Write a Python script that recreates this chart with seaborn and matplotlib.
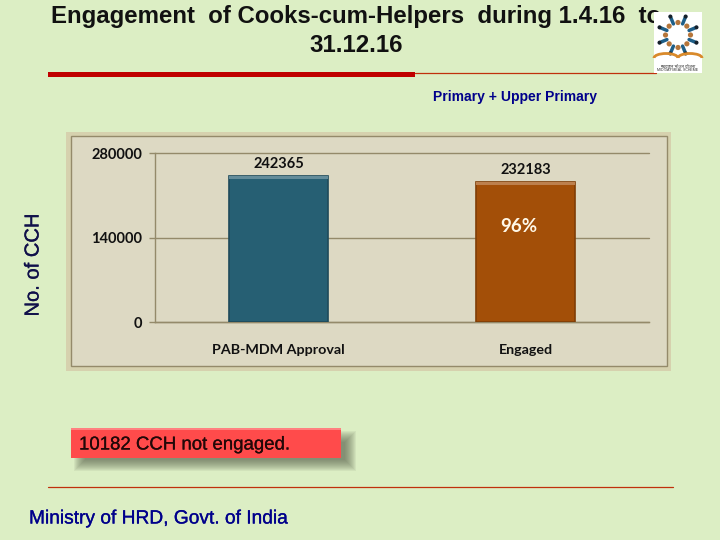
import matplotlib
matplotlib.use('Agg')
import matplotlib.pyplot as plt
import matplotlib.patheffects as pe
from matplotlib.patches import Rectangle, Circle, Arc
import numpy as np
import seaborn as sns

sns.set_style('white')
plt.rcParams['font.family'] = ['Liberation Sans', 'DejaVu Sans']

categories = ['PAB-MDM Approval', 'Engaged']
values = [242365, 232183]
bar_colors = ['#265F73', '#A34F08']
y_ticks = [0, 140000, 280000]
y_max = 280000

BG = '#DCEEC4'
W, H = 720, 540

fig = plt.figure(figsize=(7.2, 5.4), dpi=100, facecolor=BG)

# layer in pixel coordinates for everything around the chart
back = fig.add_axes([0, 0, 1, 1], zorder=0)
back.set_xlim(0, W)
back.set_ylim(H, 0)
back.axis('off')

back.add_patch(Rectangle((66, 132), 605, 239, fc='#D6D1AE', ec='none'))
back.add_patch(Rectangle((71, 136), 596, 230, fc='#DDD9C3', ec='#948A6A', lw=1))

# the chart
left, right, top, bottom = 155, 649, 153.5, 322
ax = fig.add_axes([left / W, 1 - bottom / H, (right - left) / W, (bottom - top) / H], zorder=1)
ax.patch.set_alpha(0)
sns.barplot(x=categories, y=values, hue=categories, palette=bar_colors, saturation=1,
            width=0.4, legend=False, ax=ax, zorder=3)
ax.set_xlim(-0.5, 1.5)
ax.set_ylim(0, y_max)
ax.set_yticks(y_ticks)
ax.set_yticklabels([str(v) for v in y_ticks], family='Lato', weight='bold', fontsize=10.5, color='#111111')
ax.set_xticks([0, 1])
ax.set_xticklabels(categories, family='Lato', weight='bold', fontsize=10.3, color='#111111')
ax.set_xticks([-0.5, 0.5, 1.5], minor=True)
ax.tick_params(axis='x', which='major', length=0, pad=15.5)
ax.tick_params(axis='x', which='minor', length=4, width=1, color='#948A6A', direction='out')
ax.tick_params(axis='y', length=4, width=1, color='#948A6A', direction='out', pad=5, left=True)
ax.yaxis.grid(True, color='#948A6A', lw=1)
for line in ax.get_ygridlines():
    line.set_clip_on(False)
ax.set_axisbelow(True)
for side in ['top', 'right']:
    ax.spines[side].set_visible(False)
for side in ['left', 'bottom']:
    ax.spines[side].set_color('#948A6A')
    ax.spines[side].set_linewidth(1)

# bevel on the bars
for bar, val, col in zip(ax.patches, values, bar_colors):
    rgb = np.array(matplotlib.colors.to_rgb(col))
    bar.set_edgecolor(rgb * 0.78)
    bar.set_linewidth(1.2)
    x0, w = bar.get_x(), bar.get_width()
    ax.add_patch(Rectangle((x0, val - 4000), w, 4000, fc=0.72 * rgb + 0.28, ec='none', zorder=4))
    ax.text(x0 + w / 2, val + 21000, str(val), ha='center', va='center',
            family='Lato', weight='bold', fontsize=10.5, color='#111111')

# layer on top for the texts
over = fig.add_axes([0, 0, 1, 1], zorder=2)
over.set_xlim(0, W)
over.set_ylim(H, 0)
over.axis('off')
over.patch.set_alpha(0)

over.text(519, 226, '96%', ha='center', va='center', family='Lato', weight='bold', fontsize=13.5, color='#FFF8E8')

over.text(356, 16.5, 'Engagement  of Cooks-cum-Helpers  during 1.4.16  to', ha='center', va='center',
          fontsize=17.3, weight='bold', color='#111111')
over.text(356, 45.5, '31.12.16', ha='center', va='center', fontsize=17.3, weight='bold', color='#111111')

over.add_patch(Rectangle((48, 72), 367, 5, fc='#C00000', ec='none'))
over.plot([415, 656], [72.5, 72.5], color='#C0300C', lw=0.9)
over.plot([48, 673], [486.5, 486.5], color='#C0300C', lw=0.9)

over.text(515, 97.5, 'Primary + Upper Primary', ha='center', va='center', fontsize=10, weight='bold', color='#00008B')
over.text(33, 265, 'No. of CCH', ha='center', va='center', rotation=90, fontsize=14.5, color='#10104A',
          path_effects=[pe.withStroke(linewidth=0.2, foreground='#10104A')])

# note box with a soft shadow
for grow in np.arange(12, 0, -1):
    over.add_patch(Rectangle((86 - grow, 443 - grow), 258 + 2 * grow, 16 + 2 * grow,
                             fc='#55604A', ec='none', alpha=0.08))
over.add_patch(Rectangle((71, 428), 270, 30, fc='#FF4B4B', ec='none'))
over.add_patch(Rectangle((71, 428), 270, 2, fc='#FF8080', ec='none'))
over.text(79, 445, '10182 CCH not engaged.', ha='left', va='center', fontsize=13.4, color='#220808',
          path_effects=[pe.withStroke(linewidth=0.15, foreground='#220808')])

over.text(29, 519, 'Ministry of HRD, Govt. of India', ha='left', va='center', fontsize=13.8, color='#00008B',
          path_effects=[pe.withStroke(linewidth=0.2, foreground='#00008B')])

# logo
over.add_patch(Rectangle((654, 12), 48, 61, fc='white', ec='none', zorder=5))
for ang in np.arange(0, 360, 45) + 22.5:
    a = np.radians(ang)
    over.plot([678 + 12 * np.cos(a), 678 + 20 * np.cos(a)], [35 + 12 * np.sin(a), 35 + 20 * np.sin(a)],
              color='#1F5F88', lw=2.5, solid_capstyle='round', zorder=6)
    over.add_patch(Circle((678 + 20 * np.cos(a), 35 + 20 * np.sin(a)), 2, fc='#16202A', ec='none', zorder=6))
    over.add_patch(Circle((678 + 12.5 * np.cos(a + 0.39), 35 + 12.5 * np.sin(a + 0.39)), 2.6,
                          fc='#B5753A', ec='none', zorder=6))
over.add_patch(Arc((666, 58), 24, 9, theta1=180, theta2=360, color='#D98A2B', lw=2, zorder=6))
over.add_patch(Arc((690, 58), 24, 9, theta1=180, theta2=360, color='#D98A2B', lw=2, zorder=6))
over.text(678, 66, 'मध्याह्न भोजन योजना', ha='center', va='center', fontsize=3, color='#333333',
          family=['Noto Sans', 'DejaVu Sans'], zorder=6)
over.text(678, 70, 'MID DAY MEAL SCHEME', ha='center', va='center', fontsize=2.6, color='#333333', zorder=6)

fig.savefig('out.png', dpi=100, facecolor=BG)
